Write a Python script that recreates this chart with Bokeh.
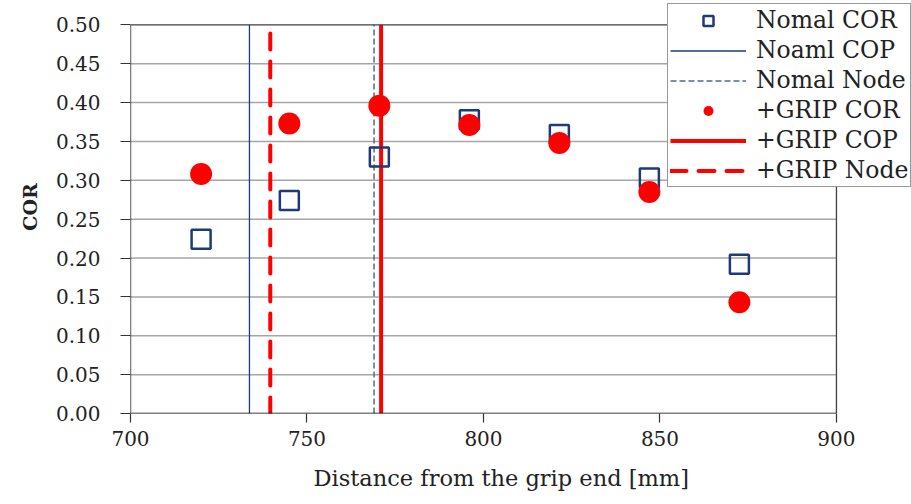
from bokeh.plotting import figure
from bokeh.models import Legend, LegendItem, FixedTicker, NumeralTickFormatter, Range1d, Title
from bokeh.embed import file_html
from bokeh.resources import INLINE

# Data
positions = [720, 745, 770.5, 796, 821.5, 847, 872.5]
normal_cor = [0.224, 0.274, 0.330, 0.378, 0.359, 0.303, 0.192]
grip_cor = [0.308, 0.373, 0.396, 0.371, 0.348, 0.285, 0.143]
normal_cop = 733.7
normal_node = 769.0
grip_cop = 771.0
grip_node = 739.6

x_min, x_max = 700, 900
y_min, y_max = 0.0, 0.5
y_span = [y_min, y_max]
x_ticks = [700, 750, 800, 850, 900]
y_ticks = [0.0, 0.05, 0.10, 0.15, 0.20, 0.25, 0.30, 0.35, 0.40, 0.45, 0.50]

FONT = "DejaVu Serif"
NAVY = "#1F3A78"
RED = "#FF0000"

# the visible plot area is 700..900 x 0..0.5; the canvas area extends further
# to the right and top so that the legend may overlap the frame border.
px_per_x = (836.0 - 130.5) / (x_max - x_min)
px_per_y = (413.0 - 24.3) / (y_max - y_min)
x_view_max = x_max + (911 - 836.0) / px_per_x
y_view_max = y_max + 24.3 / px_per_y

p = figure(width=911, height=504, output_backend="svg", toolbar_location=None,
           x_range=Range1d(x_min, x_view_max), y_range=Range1d(y_min, y_view_max),
           min_border_left=130, min_border_right=0, min_border_top=0, min_border_bottom=91)

p.background_fill_color = "white"
p.border_fill_color = "white"
p.outline_line_color = None
p.xgrid.visible = False
p.ygrid.visible = False

p.xaxis.ticker = FixedTicker(ticks=x_ticks)
p.yaxis.ticker = FixedTicker(ticks=y_ticks)
p.yaxis.formatter = NumeralTickFormatter(format="0.00")

for ax in (p.xaxis, p.yaxis):
    ax.axis_line_color = None
    ax.major_tick_line_color = "#333333"
    ax.major_tick_line_width = 1.2
    ax.major_tick_in = 0
    ax.minor_tick_line_color = None
    ax.major_label_text_font = FONT
    ax.major_label_text_font_size = "20px"
    ax.major_label_text_color = "#222222"

p.xaxis.major_tick_out = 9
p.yaxis.major_tick_out = 10
p.xaxis.major_label_standoff = 8
p.yaxis.major_label_standoff = 20

p.yaxis.axis_label = "COR"
p.yaxis.axis_label_text_font = FONT
p.yaxis.axis_label_text_color = "#222222"
p.yaxis.axis_label_text_font_size = "19px"
p.yaxis.axis_label_text_font_style = "bold"
p.yaxis.axis_label_standoff = 12

# x-axis title, positioned under the visible plot area
p.add_layout(Title(text="Distance from the grip end [mm]", align="left", offset=183,
                   text_font=FONT, text_font_size="22.5px", text_font_style="normal",
                   text_color="#222222", standoff=28), "below")

# horizontal gridlines (inside the plot area only)
grid_y = [t for t in y_ticks if y_min < t < y_max]
p.segment(x0=[x_min] * len(grid_y), x1=[x_max] * len(grid_y), y0=grid_y, y1=grid_y,
          line_color="#A6A6A6", line_width=1.5)

# Vertical reference lines
r_ncop = p.line([normal_cop, normal_cop], y_span, line_color=NAVY, line_width=1.3)
r_nnode = p.line([normal_node, normal_node], y_span, line_color="#4F6A94", line_width=1.5, line_dash="6 3")
r_gcop = p.line([grip_cop, grip_cop], y_span, line_color=RED, line_width=4)
r_gnode = p.line([grip_node, grip_node], y_span, line_color=RED, line_width=4, line_dash="16 12",
                 line_cap="round")

# plot-area border: axes in black, top/right in dark grey
p.segment(x0=[x_min, x_min], x1=[x_max, x_min], y0=[y_min, y_min], y1=[y_min, y_max],
          line_color="black", line_width=1.3)
p.segment(x0=[x_min, x_max], x1=[x_max, x_max], y0=[y_max, y_min], y1=[y_max, y_max],
          line_color="#404040", line_width=1.3)

# Markers
r_ncor = p.scatter(positions, normal_cor, marker="square", size=19, line_color=NAVY,
                   line_width=2.5, fill_alpha=0)
r_gcor = p.scatter(positions, grip_cor, marker="circle", size=22, line_color=RED,
                   fill_color=RED, line_width=0)

legend = Legend(items=[
    LegendItem(label="Nomal COR", renderers=[r_ncor]),
    LegendItem(label="Noaml COP", renderers=[r_ncop]),
    LegendItem(label="Nomal Node", renderers=[r_nnode]),
    LegendItem(label="+GRIP COR", renderers=[r_gcor]),
    LegendItem(label="+GRIP COP", renderers=[r_gcop]),
    LegendItem(label="+GRIP Node", renderers=[r_gnode]),
], location=(537, 226))
legend.label_text_font = FONT
legend.label_text_font_size = "23.5px"
legend.label_text_color = "#222222"
legend.glyph_width = 76
legend.glyph_height = 25
legend.label_height = 25
legend.spacing = 2
legend.padding = 2
legend.margin = 0
legend.label_standoff = 10
legend.border_line_color = "#333333"
legend.border_line_width = 1.2
legend.background_fill_color = "white"
legend.background_fill_alpha = 1.0
p.add_layout(legend, "center")

open("out.html", "w").write(file_html(p, INLINE))
